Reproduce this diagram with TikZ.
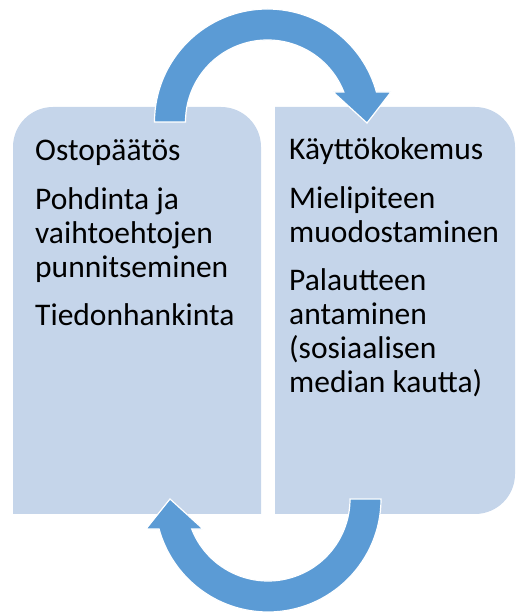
\documentclass[tikz,border=0pt]{standalone}
\usepackage{fontspec}
\setmainfont{Carlito}
\usetikzlibrary{calc}
\definecolor{boxfill}{HTML}{C5D5EA}
\definecolor{arrowfill}{HTML}{5B9BD5}
\tikzset{
  panel/.style={fill=boxfill, draw=none},
  bigarrow/.style={fill=arrowfill, draw=white, line width=1.2pt, line join=miter},
  txt/.style={anchor=base west, inner sep=0pt, font=\fontsize{31.5}{34}\selectfont, text=black}
}
\begin{document}
\begin{tikzpicture}[x=1pt,y=1pt]
\useasboundingbox (0,0) rectangle (515,612);
% panels
\path[panel] (261,98) -- (13,98) [rounded corners=40pt] -- (13,505) -- (261,505) [sharp corners] -- cycle;
\path[panel] (275,98) [rounded corners=40pt] -- (515,98) -- (515,505) [sharp corners] -- (275,505) -- cycle;
% arrow centres
\coordinate (c1) at (267.5,490);
\coordinate (c2) at (268,113);
% top arrow
\path[bigarrow] ($(c1)+(180:113)$) arc[start angle=180, end angle=15.4, radius=113]
  -- (391,520) -- (367,489) -- (333,520) -- ($(c1)+(21.5:82)$)
  arc[start angle=21.5, end angle=180, radius=82] -- cycle;
% bottom arrow
\path[bigarrow] ($(c2)+(0:113)$) arc[start angle=0, end angle=-164.6, radius=113]
  -- (146,83) -- (170,113) -- (203,83) -- ($(c2)+(-158.5:82)$)
  arc[start angle=-158.5, end angle=0, radius=82] -- cycle;
% left text
\node[txt] (l1) at (35,451) {Ostopäätös};
\node[txt] (l2) at (35,402) {Pohdinta ja};
\node[txt] (l3) at (35,368) {vaihtoehtojen};
\node[txt] (l4) at (35,334) {punnitseminen};
\node[txt] (l5) at (35,286) {Tiedonhankinta};
% right text
\node[txt] (r1) at (289,452) {Käyttökokemus};
\node[txt] (r2) at (289,403) {Mielipiteen};
\node[txt] (r3) at (289,369) {muodostaminen};
\node[txt] (r4) at (289,321) {Palautteen};
\node[txt] (r5) at (289,287) {antaminen};
\node[txt] (r6) at (289,253) {(sosiaalisen};
\node[txt] (r7) at (289,219) {median kautta)};
\end{tikzpicture}
\end{document}
